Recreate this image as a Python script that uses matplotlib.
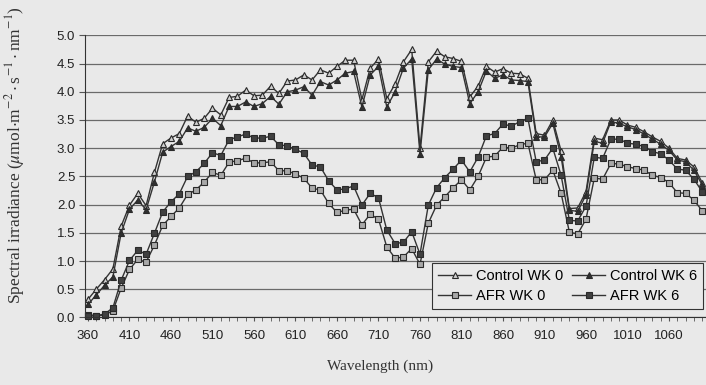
import matplotlib.pyplot as plt
import numpy as np

# Wavelength every 10 nm, 360..1100
wavelength = np.arange(360, 1110, 10)

control_wk0 = [0.32, 0.50, 0.67, 0.86, 1.62, 1.99, 2.20, 1.98, 2.57, 3.08,
               3.18, 3.26, 3.57, 3.46, 3.53, 3.71, 3.59, 3.90, 3.92, 4.03,
               3.93, 3.94, 4.10, 3.97, 4.19, 4.21, 4.30, 4.21, 4.39, 4.33,
               4.45, 4.56, 4.56, 3.86, 4.42, 4.58, 3.88, 4.14, 4.53, 4.75,
               3.00, 4.53, 4.72, 4.62, 4.59, 4.54, 3.91, 4.10, 4.45, 4.35,
               4.41, 4.33, 4.32, 4.24, 3.26, 3.23, 3.50, 2.95, 1.93, 1.94,
               2.23, 3.18, 3.15, 3.50, 3.50, 3.41, 3.37, 3.29, 3.20, 3.12,
               3.00, 2.82, 2.79, 2.67, 2.39]
control_wk6 = [0.23, 0.40, 0.57, 0.72, 1.50, 1.92, 2.08, 1.91, 2.40, 2.93,
               3.03, 3.12, 3.36, 3.30, 3.37, 3.53, 3.40, 3.74, 3.74, 3.82,
               3.74, 3.79, 3.92, 3.78, 4.00, 4.03, 4.09, 3.94, 4.18, 4.12,
               4.21, 4.33, 4.36, 3.73, 4.30, 4.45, 3.73, 4.00, 4.42, 4.58,
               2.90, 4.39, 4.58, 4.49, 4.45, 4.43, 3.79, 4.00, 4.37, 4.24,
               4.30, 4.21, 4.20, 4.18, 3.20, 3.20, 3.44, 2.85, 1.90, 1.88,
               2.17, 3.12, 3.09, 3.47, 3.44, 3.38, 3.33, 3.25, 3.16, 3.07,
               2.96, 2.79, 2.76, 2.61, 2.35]
afr_wk0 = [0.05, 0.03, 0.04, 0.12, 0.52, 0.85, 1.03, 0.98, 1.28, 1.63,
           1.79, 1.94, 2.18, 2.26, 2.40, 2.57, 2.52, 2.75, 2.78, 2.82,
           2.74, 2.74, 2.76, 2.60, 2.60, 2.54, 2.47, 2.29, 2.26, 2.02,
           1.86, 1.90, 1.92, 1.64, 1.83, 1.74, 1.25, 1.05, 1.07, 1.22,
           0.94, 1.67, 1.99, 2.14, 2.30, 2.44, 2.26, 2.50, 2.84, 2.86,
           3.02, 3.00, 3.06, 3.09, 2.44, 2.44, 2.61, 2.20, 1.51, 1.48,
           1.74, 2.47, 2.45, 2.73, 2.72, 2.67, 2.64, 2.61, 2.52, 2.48,
           2.39, 2.21, 2.20, 2.08, 1.89]
afr_wk6 = [0.02, 0.03, 0.06, 0.17, 0.66, 1.01, 1.19, 1.12, 1.49, 1.87,
           2.05, 2.19, 2.50, 2.58, 2.73, 2.92, 2.87, 3.15, 3.20, 3.25,
           3.18, 3.18, 3.21, 3.06, 3.04, 2.98, 2.91, 2.70, 2.67, 2.42,
           2.26, 2.28, 2.33, 1.99, 2.20, 2.12, 1.55, 1.31, 1.33, 1.52,
           1.12, 1.99, 2.30, 2.48, 2.63, 2.79, 2.58, 2.84, 3.22, 3.26,
           3.43, 3.39, 3.47, 3.53, 2.76, 2.79, 3.00, 2.52, 1.72, 1.71,
           1.97, 2.84, 2.82, 3.16, 3.16, 3.09, 3.07, 3.03, 2.94, 2.90,
           2.79, 2.63, 2.61, 2.45, 2.23]

tick_labels = np.arange(360, 1061, 50)

bg = "#e9e9e9"
fig = plt.figure(figsize=(7.06, 3.85), dpi=100, facecolor=bg)
# plot area in pixels: left 85, top 35.4, bottom 317.4, runs past the right edge
ax = fig.add_axes([85 / 706, 1 - 317.4 / 385, (720 - 85) / 706, 282 / 385])
ax.set_facecolor(bg)

line_kw = dict(color="#333333", lw=1.0, markeredgecolor="#2a2a2a",
               markeredgewidth=0.8, markersize=5, clip_on=False)
ax.plot(wavelength, control_wk0, marker="^", markerfacecolor="#d0d0d0",
        label="Control WK 0", **line_kw)
ax.plot(wavelength, afr_wk0, marker="s", markerfacecolor="#a8a8a8",
        label="AFR WK 0", **line_kw)
ax.plot(wavelength, control_wk6, marker="^", markerfacecolor="#303030",
        label="Control WK 6", **line_kw)
ax.plot(wavelength, afr_wk6, marker="s", markerfacecolor="#404040",
        label="AFR WK 6", **line_kw)

ax.set_xlim(360 - 3 / 0.83, 360 + (720 - 88) / 0.83)
ax.set_ylim(0, 5.0)
ax.set_yticks(np.arange(0, 5.01, 0.5))
ax.set_yticklabels([f"{v:.1f}" for v in np.arange(0, 5.01, 0.5)])
ax.set_xticks(tick_labels)
ax.set_xticklabels([str(t) for t in tick_labels])
ax.set_xticks(wavelength, minor=True)
ax.yaxis.grid(True, color="#6a6a6a", lw=0.9)
ax.set_axisbelow(True)
for s in ["top", "right"]:
    ax.spines[s].set_visible(False)
ax.spines["left"].set_color("#333333")
ax.spines["bottom"].set_color("#333333")
ax.tick_params(axis="y", length=4, color="#555555", labelsize=9.5,
               labelcolor="#222222", pad=3)
ax.tick_params(axis="x", which="major", length=3, color="#555555",
               labelsize=9.5, labelcolor="#222222", pad=6)
ax.tick_params(axis="x", which="minor", length=3, color="#555555")
for lab in ax.get_xticklabels() + ax.get_yticklabels():
    lab.set_family("Liberation Sans")

plt.rcParams["mathtext.fontset"] = "stix"
fig.text(15 / 706, 1 - 155 / 385,
         r"Spectral irradiance ($\mu$mol$\cdot$m$^{-2}\cdot$s$^{-1}\cdot$nm$^{-1}$)",
         rotation=90, ha="center", va="center", fontsize=12.5,
         family="Liberation Serif", color="#333333")
fig.text(380 / 706, 1 - 366 / 385, "Wavelength (nm)", ha="center", va="center",
         fontsize=11, family="Liberation Serif", color="#333333")

leg = fig.legend(loc="upper left", bbox_to_anchor=(432 / 706, 1 - 263 / 385),
                 borderaxespad=0, ncol=2, frameon=True, fancybox=False,
                 edgecolor="#333333", facecolor=bg, framealpha=1,
                 handlelength=2.3, handletextpad=0.3, columnspacing=0.6,
                 borderpad=0.4, labelspacing=0.4,
                 prop={"family": "Liberation Sans", "size": 10.5})
leg.get_frame().set_linewidth(0.8)

fig.savefig("out.png", dpi=100, facecolor=bg)
